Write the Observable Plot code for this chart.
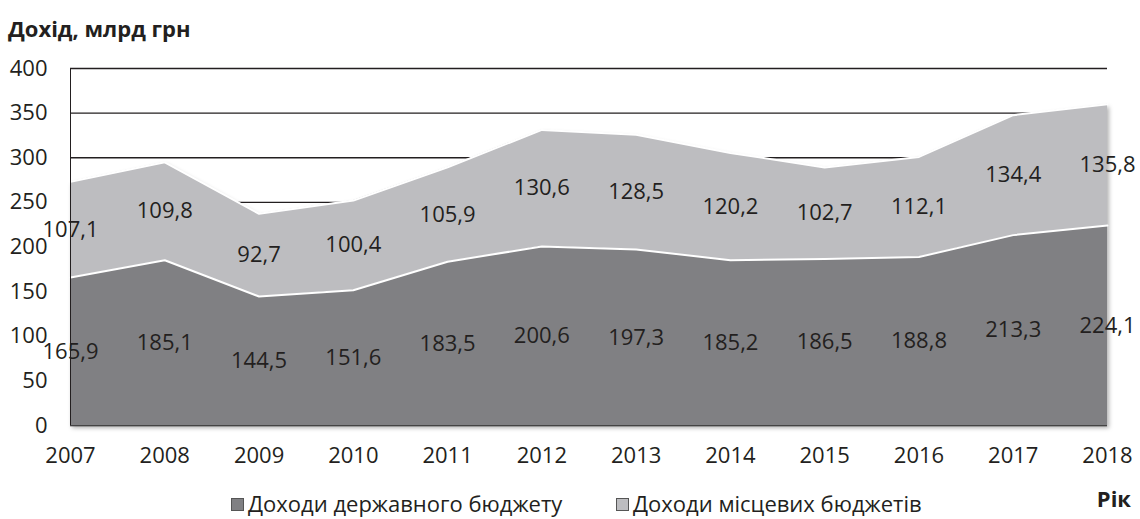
<!DOCTYPE html>
<html>
<head>
<meta charset="utf-8">
<script src="https://cdn.jsdelivr.net/npm/d3@7"></script>
<script src="https://cdn.jsdelivr.net/npm/@observablehq/plot@0.6"></script>
<style>
  html, body { margin: 0; padding: 0; background: #fff; }
  body { width: 1140px; height: 519px; position: relative; overflow: hidden; font-family: "Open Sans", sans-serif; color: #231f20; }
  #title { position: absolute; left: 8px; top: 14px; font-size: 22px; line-height: 28px; font-weight: bold; }
  #chart { position: absolute; left: 0; top: 40px; }
  #xlabel { position: absolute; right: 9px; top: 484px; font-size: 22px; line-height: 28px; font-weight: bold; }
  .legend-item { position: absolute; top: 490px; font-size: 22px; line-height: 26px; white-space: nowrap; }
  .legend-item .sw { display: inline-block; width: 11px; height: 11px; border: 1px solid #555; margin-right: 4px; vertical-align: 1px; }
</style>
</head>
<body>
<div id="title">Дохід, млрд грн</div>
<div id="chart"></div>
<div id="xlabel">Рік</div>
<div id="legend"></div>
<script>
const years = [2007, 2008, 2009, 2010, 2011, 2012, 2013, 2014, 2015, 2016, 2017, 2018];
const stateRevenue = [165.9, 185.1, 144.5, 151.6, 183.5, 200.6, 197.3, 185.2, 186.5, 188.8, 213.3, 224.1];
const localRevenue = [107.1, 109.8, 92.7, 100.4, 105.9, 130.6, 128.5, 120.2, 102.7, 112.1, 134.4, 135.8];
const seriesNames = ["Доходи державного бюджету", "Доходи місцевих бюджетів"];
const seriesColors = ["#808083", "#bdbdc0"];
const yTicks = [0, 50, 100, 150, 200, 250, 300, 350, 400];

const data = [
  ...years.map((year, i) => ({year, series: seriesNames[0], value: stateRevenue[i]})),
  ...years.map((year, i) => ({year, series: seriesNames[1], value: localRevenue[i]}))
];
const fmt = v => v.toFixed(1).replace(".", ",");

const chart = Plot.plot({
  width: 1140,
  height: 440,
  marginLeft: 70,
  marginRight: 33,
  marginTop: 28,
  marginBottom: 55,
  style: {fontFamily: "Open Sans, sans-serif", fontSize: "22px", color: "#231f20", background: "transparent"},
  x: {domain: [2007, 2018], label: null},
  y: {domain: [0, 400], label: null},
  color: {domain: seriesNames, range: seriesColors},
  marks: [
    Plot.ruleY(yTicks, {stroke: "#231f20", strokeWidth: 1.3}),
    Plot.areaY(data, {x: "year", y: "value", fill: "series", order: seriesNames}),
    Plot.lineY(data, Plot.stackY2({x: "year", y: "value", z: "series", order: seriesNames, stroke: "white", strokeWidth: 2})),
    Plot.ruleX([2007], {y1: 0, y2: 400, stroke: "#231f20", strokeWidth: 1}),
    Plot.ruleY([0], {stroke: "#444", strokeWidth: 1}),
    Plot.text(data, Plot.stackY({x: "year", y: "value", z: "series", order: seriesNames, text: d => fmt(d.value), fill: "#231f20"})),
    Plot.axisY({ticks: yTicks, tickSize: 0, tickPadding: 23, fill: "#231f20"}),
    Plot.axisX({ticks: years, tickFormat: "d", tickSize: 0, tickPadding: 22, fill: "#231f20"})
  ]
});
chart.querySelectorAll('g[aria-label="area"]').forEach(g => g.style.filter = "drop-shadow(2px 3px 2px rgba(0,0,0,0.3))");
document.getElementById("chart").appendChild(chart);

const legend = document.getElementById("legend");
const legendX = [231, 616];
seriesNames.forEach((name, i) => {
  const item = document.createElement("div");
  item.className = "legend-item";
  item.style.left = legendX[i] + "px";
  const sw = document.createElement("span");
  sw.className = "sw";
  sw.style.background = seriesColors[i];
  item.appendChild(sw);
  item.appendChild(document.createTextNode(name));
  legend.appendChild(item);
});
</script>
</body>
</html>
